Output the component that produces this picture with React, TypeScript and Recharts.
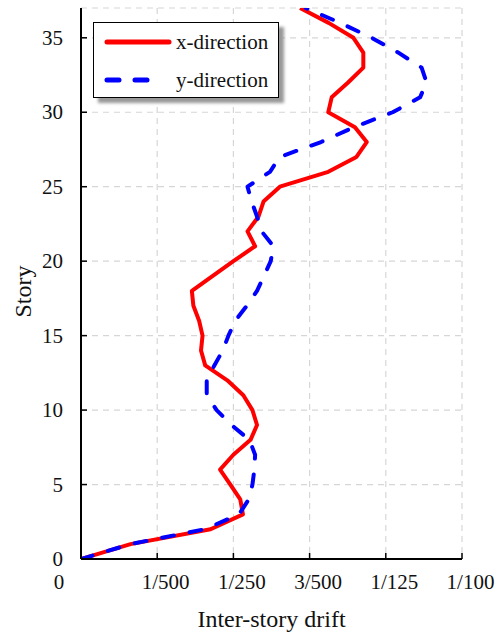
import React from 'react';
import { LineChart, Line, XAxis, YAxis, CartesianGrid, Legend } from 'recharts';

// story levels and inter-story drift (x 1/1000)
const stories = [
  0, 1, 2, 3, 4, 5, 6, 7, 8, 9, 10, 11, 12, 13, 14, 15, 16, 17, 18,
  19, 20, 21, 22, 23, 24, 25, 26, 27, 28, 29, 30, 31, 32, 33, 34, 35, 36, 37,
];
const xDirection = [
  0, 1.3, 3.4, 4.25, 4.18, 3.92, 3.65, 4.0, 4.45, 4.62, 4.5, 4.26, 3.84, 3.26, 3.15, 3.19, 3.1, 2.95, 2.91,
  3.45, 4.0, 4.57, 4.37, 4.66, 4.79, 5.22, 6.49, 7.23, 7.5, 7.19, 6.49, 6.58, 7.01, 7.41, 7.41, 7.15, 6.5, 5.75,
];
const yDirection = [
  0, 1.3, 3.25, 4.15, 4.4, 4.5, 4.55, 4.57, 4.42, 3.95, 3.56, 3.3, 3.3, 3.5, 3.72, 3.87, 4.05, 4.35, 4.62,
  4.8, 4.98, 5.05, 4.74, 4.62, 4.48, 4.37, 4.96, 5.22, 6.3, 7.17, 8.18, 8.9, 9.07, 8.94, 8.33, 7.63, 6.8, 5.9,
];

const xTicks = [0, 2, 4, 6, 8, 10];
const xTickLabels = ['0', '1/500', '1/250', '3/500', '1/125', '1/100'];
const yTicks = [0, 5, 10, 15, 20, 25, 30, 35];

const series = [
  { key: 'xDir', name: 'x-direction', color: '#ff0000', dash: undefined as string | undefined },
  { key: 'yDir', name: 'y-direction', color: '#0000ff', dash: '12 16' },
];

const rows = stories.map((s, i) => ({ story: s, xDir: xDirection[i], yDir: yDirection[i] }));

const FONT = "'Liberation Serif', 'DejaVu Serif', serif";
const textStyle = { fontFamily: FONT, fill: '#111' };

const XTick = (props: any) => {
  const { x, y, payload } = props;
  const i = xTicks.indexOf(payload.value);
  const dx = payload.value === 0 ? -22 : 8.5;
  return (
    <g>
      <line x1={x} x2={x} y1={y} y2={y - 6} stroke="#000" strokeWidth={1.5} />
      <text x={x + dx} y={y + 30} textAnchor="middle" fontSize={21} style={textStyle}>
        {xTickLabels[i]}
      </text>
    </g>
  );
};

const YTick = (props: any) => {
  const { x, y, payload } = props;
  return (
    <g>
      <line x1={x} x2={x + 6} y1={y} y2={y} stroke="#000" strokeWidth={1.5} />
      <text x={x - 18} y={y + 7} textAnchor="end" fontSize={21} style={textStyle}>
        {payload.value}
      </text>
    </g>
  );
};

const XTitle = (props: any) => {
  const { viewBox } = props;
  return (
    <text x={viewBox.x + viewBox.width / 2} y={viewBox.y + 68} textAnchor="middle" fontSize={24} style={textStyle}>
      Inter-story drift
    </text>
  );
};

const YTitle = (props: any) => {
  const { viewBox } = props;
  const cy = viewBox.y + viewBox.height / 2 + 8;
  return (
    <text
      x={23}
      y={cy}
      transform={`rotate(-90, 23, ${cy})`}
      textAnchor="middle"
      dominantBaseline="central"
      fontSize={24}
      style={textStyle}
    >
      Story
    </text>
  );
};

const LegendBox = () => (
  <div
    style={{
      width: 186,
      height: 76,
      background: '#fff',
      border: '1.5px solid #000',
      boxShadow: '5px 5px 3px #999',
      boxSizing: 'border-box',
    }}
  >
    <svg width={184} height={74}>
      {series.map((s, i) => {
        const cy = 19 + i * 38;
        return (
          <g key={s.key}>
            <line
              x1={13}
              x2={s.dash ? 58 : 75}
              y1={cy}
              y2={cy}
              stroke={s.color}
              strokeWidth={5}
              strokeLinecap="round"
              strokeDasharray={s.dash}
            />
            <text x={82} y={cy + 7} fontSize={21} style={textStyle}>
              {s.name}
            </text>
          </g>
        );
      })}
    </svg>
  </div>
);

export default function App() {
  return (
    <div style={{ position: 'absolute', left: 0, top: 0, background: '#fff', fontFamily: FONT }}>
      <LineChart
        width={499}
        height={637}
        data={rows}
        layout="vertical"
        margin={{ top: 8, right: 37, bottom: 18, left: 21 }}
      >
        <CartesianGrid stroke="#d6d6d6" strokeDasharray="6 5" strokeWidth={1.2} />
        <XAxis
          type="number"
          domain={[0, 10]}
          ticks={xTicks}
          allowDataOverflow
          height={60}
          axisLine={{ stroke: '#000', strokeWidth: 2 }}
          tickLine={false}
          tickSize={0}
          tickMargin={0}
          tick={<XTick />}
          interval={0}
          label={<XTitle />}
        />
        <XAxis
          xAxisId="top"
          orientation="top"
          type="number"
          domain={[0, 10]}
          height={0}
          tick={false}
          tickLine={false}
          axisLine={{ stroke: '#000', strokeWidth: 2 }}
        />
        <YAxis
          type="number"
          dataKey="story"
          domain={[0, 37]}
          ticks={yTicks}
          reversed
          allowDataOverflow
          width={60}
          axisLine={{ stroke: '#000', strokeWidth: 2 }}
          tickLine={false}
          tickSize={0}
          tickMargin={0}
          tick={<YTick />}
          interval={0}
          label={<YTitle />}
        />
        <YAxis
          yAxisId="right"
          orientation="right"
          type="number"
          domain={[0, 37]}
          width={0}
          tick={false}
          tickLine={false}
          axisLine={{ stroke: '#000', strokeWidth: 2 }}
        />
        <Legend
          layout="horizontal"
          align="center"
          verticalAlign="middle"
          wrapperStyle={{ left: 93, top: 22, width: 190, height: 82 }}
          content={() => <LegendBox />}
        />
        {series.map((s) => (
          <Line
            key={s.key}
            dataKey={s.key}
            name={s.name}
            type="linear"
            stroke={s.color}
            strokeWidth={4}
            strokeDasharray={s.dash}
            strokeLinecap={s.dash ? 'round' : 'butt'}
            strokeLinejoin="round"
            dot={false}
            activeDot={false}
            isAnimationActive={false}
          />
        ))}
      </LineChart>
    </div>
  );
}
